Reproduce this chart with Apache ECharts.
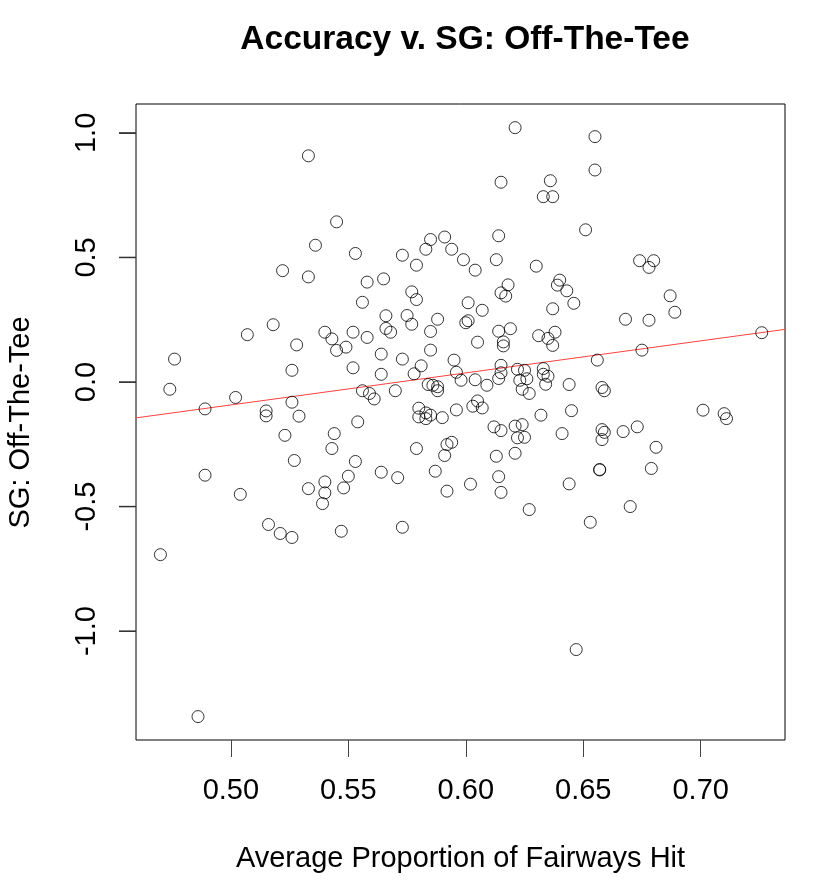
<!DOCTYPE html>
<html>
<head>
<meta charset="utf-8">
<title>Accuracy v. SG: Off-The-Tee</title>
<script src="https://cdn.jsdelivr.net/npm/echarts@6/dist/echarts.min.js"></script>
<style>
  html, body { margin: 0; padding: 0; background: #fff; }
  #chart { width: 820px; height: 886px; }
</style>
</head>
<body>
<div id="chart"></div>
<script>
// average proportion of fairways hit, one entry per player
var fairwaysHit = [
  0.533, 0.545, 0.536, 0.553, 0.522, 0.533, 0.518, 0.507, 0.540, 0.543,
  0.528, 0.545, 0.549, 0.552, 0.476, 0.526, 0.552, 0.474, 0.502, 0.489,
  0.526, 0.515, 0.515, 0.529,
  0.523, 0.544, 0.543, 0.527, 0.553, 0.489, 0.504, 0.533, 0.540, 0.540,
  0.539, 0.550, 0.548, 0.516, 0.521, 0.526, 0.547, 0.470, 0.486,
  0.621, 0.615, 0.636, 0.633, 0.637, 0.614, 0.591, 0.585, 0.583, 0.594,
  0.573, 0.579, 0.599, 0.604, 0.613, 0.630, 0.558, 0.565, 0.556, 0.577,
  0.579, 0.618, 0.615, 0.617, 0.640, 0.639, 0.643, 0.601, 0.607, 0.637,
  0.566, 0.575, 0.577, 0.588, 0.566, 0.568, 0.558, 0.585, 0.600, 0.601,
  0.614, 0.619, 0.616, 0.616, 0.605, 0.585, 0.631, 0.635, 0.638, 0.637,
  0.564, 0.573, 0.564, 0.581, 0.578, 0.595, 0.596, 0.598, 0.604, 0.609,
  0.615, 0.615, 0.614, 0.622, 0.625, 0.623, 0.626, 0.624, 0.627, 0.633,
  0.633, 0.635, 0.634, 0.644, 0.556, 0.559, 0.561, 0.570, 0.584, 0.586,
  0.588, 0.588, 0.580, 0.583, 0.585, 0.580, 0.583, 0.590, 0.596, 0.603,
  0.605, 0.607, 0.632, 0.645, 0.554,
  0.612, 0.615, 0.621, 0.624, 0.622, 0.625, 0.641, 0.579, 0.592, 0.594,
  0.591, 0.613, 0.621, 0.564, 0.571, 0.587, 0.614, 0.602, 0.592, 0.615,
  0.627, 0.644, 0.573,
  0.655, 0.655, 0.651, 0.674, 0.680, 0.678, 0.646, 0.687, 0.689, 0.668,
  0.678, 0.726, 0.675, 0.656, 0.658, 0.659, 0.701, 0.710, 0.711,
  0.658, 0.659, 0.658, 0.667, 0.673, 0.681, 0.657, 0.657, 0.679, 0.670,
  0.653, 0.647
];

// strokes gained off the tee, same order
var sgOffTee = [
  0.908, 0.643, 0.549, 0.516, 0.447, 0.422, 0.230, 0.190, 0.200, 0.173,
  0.149, 0.127, 0.140, 0.200, 0.092, 0.047, 0.057, -0.029, -0.062, -0.108,
  -0.081, -0.116, -0.136, -0.137,
  -0.214, -0.207, -0.267, -0.315, -0.319, -0.374, -0.451, -0.428, -0.401, -0.445,
  -0.488, -0.378, -0.425, -0.572, -0.608, -0.624, -0.599, -0.693, -1.343,
  1.021, 0.802, 0.808, 0.744, 0.744, 0.587, 0.582, 0.572, 0.533, 0.533,
  0.509, 0.469, 0.491, 0.449, 0.491, 0.465, 0.401, 0.414, 0.320, 0.362,
  0.331, 0.390, 0.358, 0.345, 0.409, 0.389, 0.366, 0.318, 0.288, 0.294,
  0.266, 0.267, 0.232, 0.252, 0.215, 0.200, 0.179, 0.203, 0.238, 0.246,
  0.204, 0.214, 0.161, 0.145, 0.160, 0.128, 0.186, 0.175, 0.200, 0.147,
  0.112, 0.092, 0.031, 0.065, 0.033, 0.088, 0.039, 0.007, 0.009, -0.013,
  0.067, 0.037, 0.014, 0.051, 0.047, 0.007, 0.013, -0.029, -0.046, 0.054,
  0.031, 0.023, -0.009, -0.010, -0.035, -0.046, -0.068, -0.035, -0.010, -0.013,
  -0.019, -0.035, -0.105, -0.124, -0.133, -0.140, -0.147, -0.143, -0.112, -0.097,
  -0.076, -0.104, -0.133, -0.115, -0.160,
  -0.180, -0.195, -0.177, -0.171, -0.224, -0.222, -0.207, -0.267, -0.251, -0.242,
  -0.295, -0.298, -0.286, -0.362, -0.384, -0.358, -0.380, -0.410, -0.438, -0.443,
  -0.512, -0.409, -0.583,
  0.985, 0.851, 0.611, 0.487, 0.487, 0.460, 0.316, 0.346, 0.280, 0.252,
  0.248, 0.198, 0.128, 0.088, -0.022, -0.035, -0.113, -0.127, -0.147,
  -0.191, -0.202, -0.231, -0.199, -0.180, -0.262, -0.351, -0.353, -0.347, -0.500,
  -0.563, -1.074
];

// fitted line
var fitIntercept = -0.735;
var fitSlope = 1.286;

var xTicks = [0.50, 0.55, 0.60, 0.65, 0.70];
var yTicks = [-1.0, -0.5, 0.0, 0.5, 1.0];

var xMin = 0.4596, xMax = 0.7359;
var yMin = -1.437, yMax = 1.116;

var points = fairwaysHit.map(function (x, i) { return [x, sgOffTee[i]]; });
var fitLine = [
  [xMin, fitIntercept + fitSlope * xMin],
  [xMax, fitIntercept + fitSlope * xMax]
];

var font = "'Liberation Sans', Arial, sans-serif";

var myChart = echarts.init(document.getElementById('chart'));
myChart.setOption({
  animation: false,
  title: {
    text: 'Accuracy v. SG: Off-The-Tee',
    left: 460,
    top: 18,
    textAlign: 'center',
    textStyle: { fontFamily: font, fontSize: 33.5, fontWeight: 'bold', color: '#000', lineHeight: 34 }
  },
  grid: {
    left: 136, top: 104, right: 35, bottom: 146,
    show: true, borderColor: '#000', borderWidth: 1
  },
  xAxis: {
    type: 'value',
    min: xMin, max: xMax,
    axisLine: { show: false, onZero: false },
    splitLine: { show: false },
    axisTick: { show: true, inside: false, length: 17, customValues: xTicks, lineStyle: { color: '#444', width: 1 } },
    axisLabel: {
      customValues: xTicks, margin: 36,
      fontFamily: font, fontSize: 29, color: '#000', lineHeight: 29,
      formatter: function (v) { return v.toFixed(2); }
    }
  },
  yAxis: {
    type: 'value',
    min: yMin, max: yMax,
    axisLine: { show: false, onZero: false },
    splitLine: { show: false },
    axisTick: { show: true, inside: false, length: 17, customValues: yTicks, lineStyle: { color: '#444', width: 1 } },
    axisLabel: {
      customValues: yTicks, margin: 35, rotate: 90,
      fontFamily: font, fontSize: 29, color: '#000', lineHeight: 29,
      formatter: function (v) { return v.toFixed(1); }
    }
  },
  graphic: [
    {
      type: 'text', x: 460.5, y: 858.5,
      style: { text: 'Average Proportion of Fairways Hit', font: '29px ' + font, fill: '#000', align: 'center', verticalAlign: 'middle' }
    },
    {
      type: 'text', x: 20.5, y: 422.5, rotation: Math.PI / 2,
      style: { text: 'SG: Off-The-Tee', font: '29px ' + font, fill: '#000', align: 'center', verticalAlign: 'middle' }
    }
  ],
  series: [
    {
      name: 'players',
      type: 'scatter',
      data: points,
      symbol: 'circle',
      symbolSize: 12,
      itemStyle: { color: 'transparent', borderColor: '#000', borderWidth: 1 },
      z: 3
    },
    {
      name: 'fit',
      type: 'line',
      data: fitLine,
      showSymbol: false,
      symbol: 'none',
      lineStyle: { color: '#ff4040', width: 1 },
      clip: true,
      z: 2
    },
    {
      // y-axis tick marks drawn through the y scale
      type: 'custom',
      clip: false,
      data: yTicks.map(function (v) { return [xMin, v]; }),
      encode: { x: 0, y: 1 },
      renderItem: function (params, api) {
        var p = api.coord([api.value(0), api.value(1)]);
        return {
          type: 'line',
          shape: { x1: p[0] - 17, y1: p[1], x2: p[0], y2: p[1] },
          style: { stroke: '#333', lineWidth: 1.5 }
        };
      }
    }
  ]
});
</script>
</body>
</html>
